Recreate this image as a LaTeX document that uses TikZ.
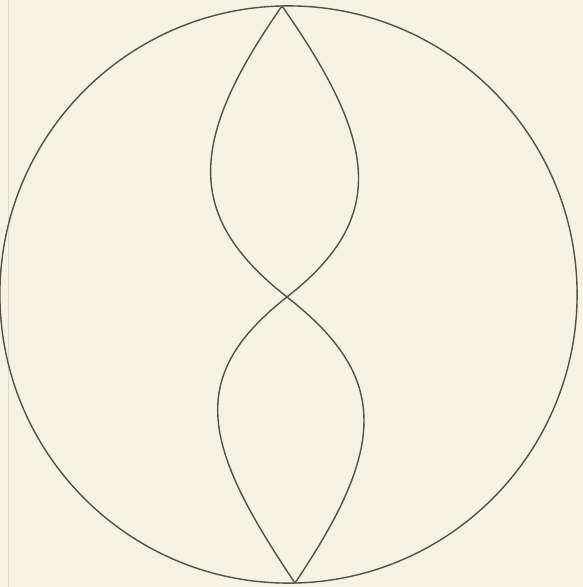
\documentclass[tikz,border=0pt]{standalone}
\usepackage{tikz}
\usetikzlibrary{calc}

\definecolor{paper}{RGB}{245,243,223}
\definecolor{ink}{RGB}{80,80,78}

\begin{document}
\begin{tikzpicture}[
  x=1pt, y=-1pt,
  line/.style={draw=ink, line width=1.4pt},
  edge/.style={draw=paper!90!black, line width=0.8pt}
]
  % page
  \fill[paper] (0,0) rectangle (583,587);
  \useasboundingbox (0,0) rectangle (583,587);
  \draw[edge] (8,0) -- (8,587);

  \coordinate (top) at (282,6);
  \coordinate (waist) at (287,297);
  \coordinate (bottom) at (295,583);

  % outer circle
  \draw[line] (288.5,294.5) circle[radius=288.6];

  % upper loop
  \draw[line] (top) .. controls (187.4,141.2) and (184.6,216.9) .. (waist);
  \draw[line] (top) .. controls (376.6,141.2) and (389.4,216.9) .. (waist);

  % lower loop
  \draw[line] (waist) .. controls (184.6,377.1) and (202.8,446.2) .. (bottom);
  \draw[line] (waist) .. controls (389.4,377.1) and (387.2,446.2) .. (bottom);
\end{tikzpicture}
\end{document}
